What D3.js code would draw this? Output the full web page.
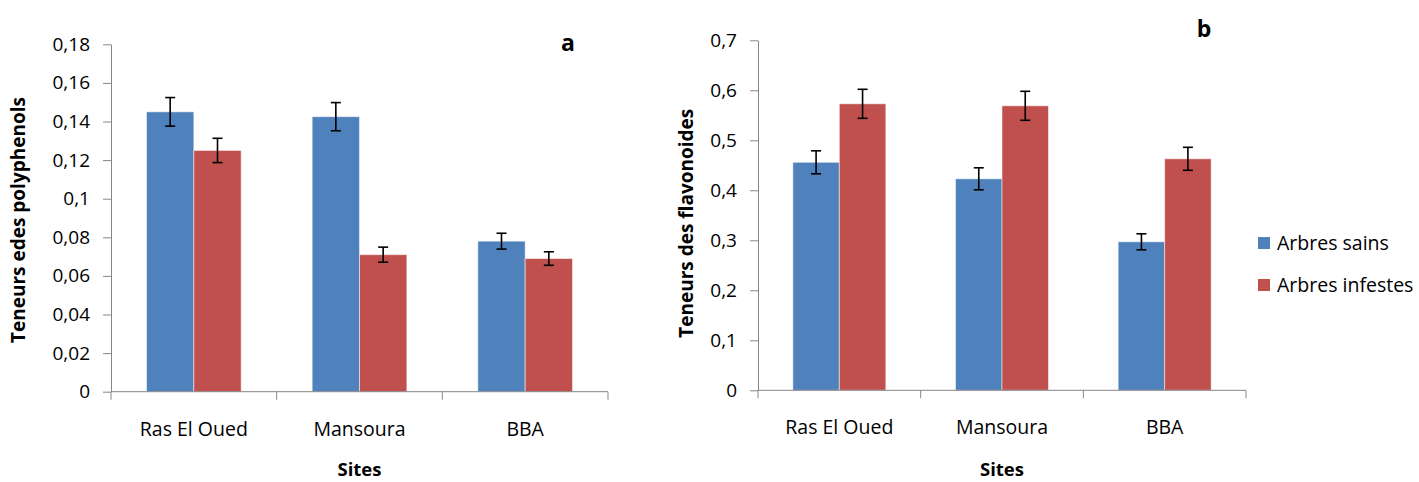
<!DOCTYPE html>
<html>
<head>
<meta charset="UTF-8" />
<title>Polyphenols et flavonoides</title>
<script src="https://d3js.org/d3.v7.min.js"></script>
<style>
  body { margin: 0; background: #fff; }
  text { font-family: "Open Sans", Lato, sans-serif; fill: #000; }
</style>
</head>
<body>
<svg id="chart" width="1419" height="482"></svg>
<script>
// data
const sites = ["Ras El Oued", "Mansoura", "BBA"];
const seriesNames = ["Arbres sains", "Arbres infestes"];
const seriesColors = ["#4f81bd", "#c0504d"];

// a : polyphenols
const polySains = [0.145, 0.1425, 0.078];
const polySainsErr = [0.0074, 0.0073, 0.0041];
const polyInfestes = [0.125, 0.071, 0.069];
const polyInfestesErr = [0.0063, 0.0039, 0.0035];
const polyTicks = [0, 0.02, 0.04, 0.06, 0.08, 0.1, 0.12, 0.14, 0.16, 0.18];

// b : flavonoides
const flavSains = [0.456, 0.423, 0.297];
const flavSainsErr = [0.023, 0.022, 0.016];
const flavInfestes = [0.573, 0.569, 0.463];
const flavInfestesErr = [0.029, 0.029, 0.023];
const flavTicks = [0, 0.1, 0.2, 0.3, 0.4, 0.5, 0.6, 0.7];

const fr = d3.formatLocale({decimal: ",", thousands: " ", grouping: [3], currency: ["", "€"]});
const svg = d3.select("#chart");
const axisColor = "#868686";

function drawChart(o) {
  const g = svg.append("g");
  const x = d3.scaleBand().domain(sites).range([o.x0, o.x1]);
  const xs = d3.scaleBand().domain(seriesNames).range([0, x.bandwidth()])
               .paddingInner(0).paddingOuter(0.75);
  const y = d3.scaleLinear().domain([0, o.max]).range([o.yBottom, o.yTop]);

  // y axis
  const yAxis = d3.axisLeft(y).tickValues(o.ticks).tickSize(8).tickSizeOuter(0)
                  .tickPadding(13).tickFormat(fr.format(o.fmt));
  const ya = g.append("g").attr("transform", `translate(${o.x0},0)`).call(yAxis);
  ya.selectAll("path, line").attr("stroke", axisColor);
  ya.selectAll("text").style("font-size", "19px").style("font-family", "'Open Sans', sans-serif").attr("fill", "#000");

  // bars
  const rows = sites.map((s, i) => ({site: s, vals: o.series.map((v, k) => ({name: seriesNames[k], v: v[i], e: o.errs[k][i], c: seriesColors[k]}))}));
  const grp = g.selectAll(".site").data(rows).enter().append("g")
    .attr("transform", d => `translate(${x(d.site)},0)`);
  grp.selectAll("rect").data(d => d.vals).enter().append("rect")
    .attr("x", d => xs(d.name))
    .attr("width", xs.bandwidth())
    .attr("y", d => y(d.v))
    .attr("height", d => y(0) - y(d.v))
    .attr("fill", d => d.c)
    .attr("stroke", "rgba(255,255,255,0.5)")
    .attr("stroke-width", 1);

  // error bars
  const eb = grp.selectAll(".err").data(d => d.vals).enter().append("g").attr("class", "err")
    .attr("stroke", "#000").attr("stroke-width", 1.6);
  eb.append("line")
    .attr("x1", d => xs(d.name) + xs.bandwidth() / 2).attr("x2", d => xs(d.name) + xs.bandwidth() / 2)
    .attr("y1", d => y(d.v + d.e)).attr("y2", d => y(d.v - d.e));
  [1, -1].forEach(sg => {
    eb.append("line")
      .attr("x1", d => xs(d.name) + xs.bandwidth() / 2 - 5).attr("x2", d => xs(d.name) + xs.bandwidth() / 2 + 5)
      .attr("y1", d => y(d.v + sg * d.e)).attr("y2", d => y(d.v + sg * d.e));
  });

  // x axis line and boundary ticks
  g.append("line").attr("x1", o.x0).attr("x2", o.x1).attr("y1", y(0)).attr("y2", y(0))
    .attr("stroke", axisColor);
  const bounds = sites.map(s => x(s)).concat([o.x1]);
  g.selectAll(".xt").data(bounds).enter().append("line")
    .attr("x1", d => d).attr("x2", d => d).attr("y1", y(0)).attr("y2", y(0) + 8)
    .attr("stroke", axisColor);
  g.selectAll(".xl").data(sites).enter().append("text")
    .attr("x", d => x(d) + x.bandwidth() / 2).attr("y", y(0) + 44)
    .attr("text-anchor", "middle").style("font-size", "19.5px").text(d => d);

  // titles
  g.append("text").attr("x", (o.x0 + o.x1) / 2).attr("y", 476)
    .attr("text-anchor", "middle").style("font-size", "18.5px").style("font-weight", "bold").text("Sites");
  g.append("text").attr("transform", `translate(${o.titleX},${(o.yTop + o.yBottom) / 2 + o.titleDy}) rotate(-90)`)
    .attr("text-anchor", "middle").style("font-size", "19px").style("font-weight", "bold").text(o.title);
  g.append("text").attr("x", o.letterX).attr("y", o.letterY)
    .attr("text-anchor", "middle").style("font-size", "23px").style("font-weight", "bold").text(o.letter);
}

drawChart({
  x0: 111, x1: 608, yTop: 44.3, yBottom: 391.7, max: 0.18,
  ticks: polyTicks, fmt: ".2~f",
  series: [polySains, polyInfestes], errs: [polySainsErr, polyInfestesErr],
  title: "Teneurs edes polyphenols", titleX: 25, titleDy: 2,
  letter: "a", letterX: 568, letterY: 51
});

drawChart({
  x0: 758, x1: 1246, yTop: 40.3, yBottom: 390.3, max: 0.7,
  ticks: flavTicks, fmt: ".1~f",
  series: [flavSains, flavInfestes], errs: [flavSainsErr, flavInfestesErr],
  title: "Teneurs des flavonoides", titleX: 693, titleDy: 8,
  letter: "b", letterX: 1204, letterY: 37
});

// legend
const leg = svg.append("g").attr("transform", "translate(1258,233)");
const li = leg.selectAll("g").data(seriesNames).enter().append("g")
  .attr("transform", (d, i) => `translate(0,${i * 42})`);
li.append("rect").attr("width", 12).attr("height", 12).attr("y", 4).attr("fill", (d, i) => seriesColors[i]);
li.append("text").attr("x", 19).attr("y", 17).style("font-size", "19.5px").text(d => d);
</script>
</body>
</html>
